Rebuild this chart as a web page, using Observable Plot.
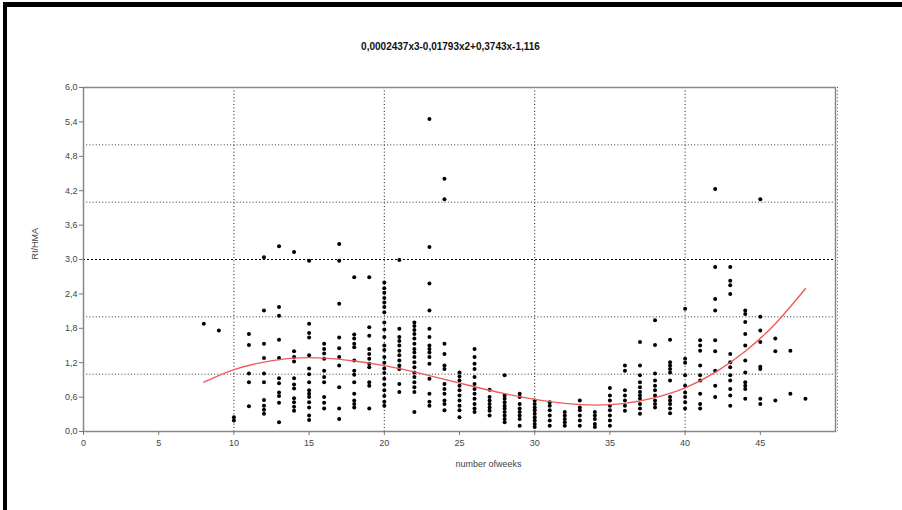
<!DOCTYPE html>
<html>
<head>
<meta charset="utf-8">
<script src="https://cdn.jsdelivr.net/npm/d3@7"></script>
<script src="https://cdn.jsdelivr.net/npm/@observablehq/plot@0.6"></script>
<style>
  html, body { margin: 0; padding: 0; background: #fff; }
  #wrap { position: relative; width: 902px; height: 510px; overflow: hidden; }
  #wrap svg { position: absolute; left: 0; top: 0; }
  .bar { position: absolute; background: #000; }
</style>
</head>
<body>
<div id="wrap">
  <div class="bar" style="left:3px; top:2px; width:899px; height:5px;"></div>
  <div class="bar" style="left:3px; top:2px; width:4px; height:508px;"></div>
</div>
<script>
// ---- data ----
const weeks = [8, 9, 10, 11, 12, 13, 14, 15, 16, 17, 18, 19, 20, 21, 22, 23, 24, 25, 26, 27, 28,
  29, 30, 31, 32, 33, 34, 35, 36, 37, 38, 39, 40, 41, 42, 43, 44, 45, 46, 47, 48];
const ratios = [
  [1.88],
  [1.76],
  [0.25, 0.19],
  [1.70, 1.51, 1.01, 0.86, 0.44],
  [3.04, 2.11, 1.53, 1.28, 1.01, 0.86, 0.55, 0.45, 0.38, 0.31],
  [3.23, 2.17, 2.02, 1.60, 1.28, 0.93, 0.84, 0.68, 0.62, 0.50, 0.16],
  [3.13, 1.40, 1.30, 1.22, 0.93, 0.82, 0.75, 0.58, 0.51, 0.43, 0.36],
  [2.98, 1.88, 1.72, 1.64, 1.33, 1.10, 1.00, 0.86, 0.72, 0.66, 0.60, 0.51, 0.42, 0.28, 0.20],
  [1.53, 1.44, 1.36, 1.27, 1.06, 0.95, 0.86, 0.60, 0.50, 0.40],
  [3.27, 2.98, 2.23, 1.64, 1.45, 1.30, 1.15, 0.77, 0.40, 0.22],
  [2.69, 1.69, 1.62, 1.53, 1.47, 1.24, 1.06, 0.99, 0.86, 0.66, 0.54, 0.48, 0.42],
  [2.69, 1.82, 1.67, 1.44, 1.35, 1.27, 1.18, 1.12, 0.86, 0.80, 0.40],
  [2.60, 2.50, 2.42, 2.33, 2.25, 2.17, 2.08, 1.90, 1.78, 1.65, 1.50, 1.42, 1.30, 1.20, 1.10, 1.02, 0.92, 0.82, 0.72, 0.62, 0.52, 0.45],
  [2.99, 1.79, 1.65, 1.58, 1.50, 1.41, 1.33, 1.24, 1.15, 1.09, 0.83, 0.69],
  [1.90, 1.84, 1.77, 1.70, 1.62, 1.53, 1.44, 1.38, 1.30, 1.21, 1.12, 1.03, 0.95, 0.86, 0.77, 0.69, 0.34],
  [5.45, 3.22, 2.58, 2.11, 1.79, 1.65, 1.50, 1.44, 1.38, 1.30, 1.18, 0.92, 0.66, 0.52, 0.45],
  [4.41, 4.05, 1.53, 1.35, 1.15, 1.09, 0.83, 0.74, 0.66, 0.54, 0.48, 0.37],
  [1.03, 0.96, 0.89, 0.80, 0.72, 0.63, 0.54, 0.45, 0.37, 0.25],
  [1.44, 1.30, 1.18, 1.09, 0.95, 0.83, 0.74, 0.66, 0.57, 0.48, 0.40, 0.34],
  [0.73, 0.60, 0.54, 0.48, 0.42, 0.36, 0.28],
  [0.98, 0.63, 0.57, 0.51, 0.45, 0.40, 0.34, 0.28, 0.22, 0.16],
  [0.66, 0.60, 0.48, 0.40, 0.34, 0.28, 0.22, 0.10],
  [0.54, 0.48, 0.42, 0.37, 0.31, 0.25, 0.19, 0.13, 0.08],
  [0.51, 0.45, 0.37, 0.28, 0.19, 0.10],
  [0.34, 0.28, 0.22, 0.16, 0.10],
  [0.54, 0.42, 0.37, 0.28, 0.19, 0.10],
  [0.34, 0.28, 0.22, 0.13, 0.08],
  [0.76, 0.63, 0.54, 0.45, 0.37, 0.28, 0.19, 0.10],
  [1.15, 1.06, 0.72, 0.63, 0.54, 0.45, 0.36],
  [1.56, 1.15, 0.98, 0.86, 0.77, 0.69, 0.63, 0.57, 0.48, 0.40, 0.31],
  [1.94, 1.51, 1.01, 0.89, 0.80, 0.72, 0.63, 0.54, 0.48, 0.42],
  [1.60, 1.21, 1.15, 1.09, 1.03, 0.89, 0.60, 0.54, 0.48, 0.40, 0.32],
  [2.14, 1.27, 1.20, 0.98, 0.80, 0.68, 0.60, 0.51, 0.40],
  [1.59, 1.50, 1.41, 1.15, 0.98, 0.89, 0.66, 0.48, 0.40],
  [4.23, 2.87, 2.31, 2.11, 1.59, 1.40, 1.06, 0.80, 0.60],
  [2.87, 2.63, 2.55, 2.40, 1.35, 1.21, 1.12, 0.98, 0.89, 0.74, 0.63, 0.45],
  [2.11, 2.05, 1.91, 1.70, 1.50, 1.24, 1.03, 0.86, 0.80, 0.74, 0.57],
  [4.05, 2.00, 1.76, 1.56, 1.13, 1.09, 0.57, 0.48],
  [1.62, 1.40, 0.54],
  [1.41, 0.66],
  [0.57]
];
// fitted cubic trend
const curveWeeks = [8, 10, 12, 14, 16, 18, 20, 22, 24, 26, 28, 30, 32, 34, 36, 38, 40, 42, 44, 46, 48];
const curveValues = [0.86, 1.08, 1.21, 1.28, 1.28, 1.23, 1.15, 1.04, 0.91, 0.78, 0.66, 0.56, 0.49, 0.46, 0.49, 0.59, 0.76, 1.03, 1.40, 1.88, 2.49];

const xTicks = [0, 5, 10, 15, 20, 25, 30, 35, 40, 45];
const yTicks = [0, 0.6, 1.2, 1.8, 2.4, 3.0, 3.6, 4.2, 4.8, 5.4, 6.0];
const hGrid = [1, 2, 4, 5];
const hGridStrong = [3];
const vGrid = [10, 20, 30, 40];

const titleText = "0,0002437x3-0,01793x2+0,3743x-1,116";
const yLabel = "RI/HMA";
const xLabel = "number ofweeks";

// ---- build tables ----
const points = weeks.flatMap((w, i) => ratios[i].map(v => ({week: w, ratio: v})));
const curve = curveWeeks.map((w, i) => ({week: w, value: curveValues[i]}));
const fmt = d => d.toFixed(1).replace(".", ",");

const plot = Plot.plot({
  width: 902,
  height: 510,
  marginLeft: 83,
  marginRight: 67,
  marginTop: 87,
  marginBottom: 79,
  style: {fontFamily: "'Liberation Sans', Arial, sans-serif", fontSize: "9px", background: "transparent", color: "#444"},
  x: {domain: [0, 50]},
  y: {domain: [0, 6]},
  marks: [
    Plot.ruleY(hGrid, {stroke: "#333", strokeWidth: 1, strokeDasharray: "1,2.2"}),
    Plot.ruleY(hGridStrong, {stroke: "#000", strokeWidth: 1.2, strokeDasharray: "2,2"}),
    Plot.ruleX(vGrid, {stroke: "#111", strokeWidth: 1, strokeDasharray: "1,2.4"}),
    Plot.ruleX([50], {stroke: "#666", strokeWidth: 1, strokeDasharray: "1,2.4", dx: 2}),
    Plot.frame({stroke: "#888", strokeWidth: 1.5}),
    Plot.axisX({ticks: xTicks, tickFormat: d => String(d), tickSize: 4, tickPadding: 4, stroke: "#777", fill: "#444", label: null}),
    Plot.axisY({ticks: yTicks, tickFormat: fmt, tickSize: 4, tickPadding: 2, stroke: "#777", fill: "#444", label: null}),
    Plot.dot(points, {x: "week", y: "ratio", r: 2, fill: "#000", stroke: null}),
    Plot.line(curve, {x: "week", y: "value", stroke: "#f05a5a", strokeWidth: 1.4, curve: "natural"}),
    Plot.text([titleText], {frameAnchor: "top-left", dx: 367, dy: -45, textAnchor: "middle", fontWeight: "bold", fontSize: 10, fill: "#111"}),
    Plot.text([yLabel], {frameAnchor: "left", dx: -48, rotate: -90, fontSize: 9, fill: "#444"}),
    Plot.text([xLabel], {frameAnchor: "bottom-left", dx: 372, dy: 35, fontSize: 9, fill: "#444"})
  ]
});
document.getElementById("wrap").prepend(plot);
</script>
</body>
</html>
